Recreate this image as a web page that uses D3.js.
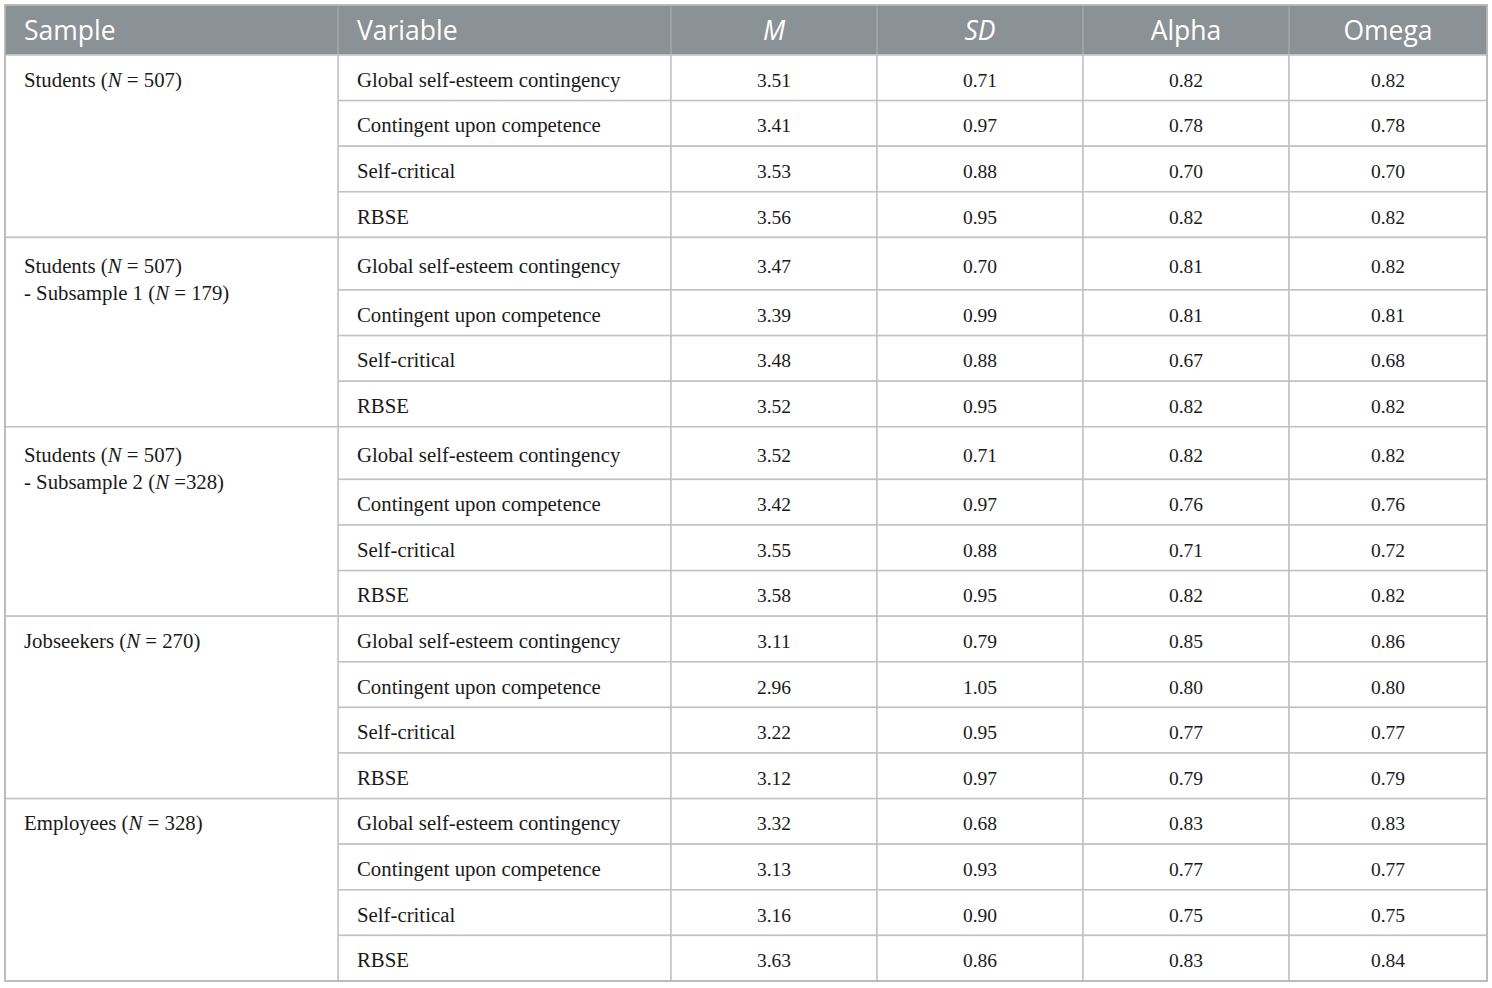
<!DOCTYPE html>
<html>
<head>
<meta charset="utf-8">
<script src="https://cdn.jsdelivr.net/npm/d3@7"></script>
<style>
  html, body { margin: 0; padding: 0; background: #fff; }
  svg { display: block; }
</style>
</head>
<body>
<svg id="chart" width="1492" height="988"></svg>
<script>
// column headings; M and SD are set in italics
const headers = ['Sample', 'Variable', 'M', 'SD', 'Alpha', 'Omega'];
const italicHeaders = ['M', 'SD'];

// sample labels, one entry per line, *...* marks italic text
const samples = [
  ['Students (*N* = 507)'],
  ['Students (*N* = 507)', '- Subsample 1 (*N* = 179)'],
  ['Students (*N* = 507)', '- Subsample 2 (*N* =328)'],
  ['Jobseekers (*N* = 270)'],
  ['Employees (*N* = 328)']
];

const variables = ['Global self-esteem contingency', 'Contingent upon competence', 'Self-critical', 'RBSE'];

// one array per sample, in the order of variables
const means = [
  [3.51, 3.41, 3.53, 3.56],
  [3.47, 3.39, 3.48, 3.52],
  [3.52, 3.42, 3.55, 3.58],
  [3.11, 2.96, 3.22, 3.12],
  [3.32, 3.13, 3.16, 3.63]
];
const sds = [
  [0.71, 0.97, 0.88, 0.95],
  [0.70, 0.99, 0.88, 0.95],
  [0.71, 0.97, 0.88, 0.95],
  [0.79, 1.05, 0.95, 0.97],
  [0.68, 0.93, 0.90, 0.86]
];
const alphas = [
  [0.82, 0.78, 0.70, 0.82],
  [0.81, 0.81, 0.67, 0.82],
  [0.82, 0.76, 0.71, 0.82],
  [0.85, 0.80, 0.77, 0.79],
  [0.83, 0.77, 0.75, 0.83]
];
const omegas = [
  [0.82, 0.78, 0.70, 0.82],
  [0.82, 0.81, 0.68, 0.82],
  [0.82, 0.76, 0.72, 0.82],
  [0.86, 0.80, 0.77, 0.79],
  [0.83, 0.77, 0.75, 0.84]
];

const svg = d3.select('#chart');
const x0 = 5, y0 = 5;
const colWidths = [333, 333, 206, 206, 206, 198];
const headerH = 50, rowH = 45.6, tallRowH = 52.6, lineGap = 27;
const borderColor = '#c2c2c2';
const serif = '"Liberation Serif", "Times New Roman", serif';
const sans = '"Open Sans", "Noto Sans", sans-serif';
const labelSize = 20.8, numSize = 19.5, baseShift = 9;
const fmt = d3.format('.2f');

const colEdges = [x0, ...d3.cumsum(colWidths).map(w => x0 + w)];

// flatten groups into rows; the first row of a two-line sample is taller
const rows = [];
samples.forEach((label, g) => {
  variables.forEach((v, i) => {
    rows.push({
      group: g,
      h: i === 0 && label.length > 1 ? tallRowH : rowH,
      cells: [v, fmt(means[g][i]), fmt(sds[g][i]), fmt(alphas[g][i]), fmt(omegas[g][i])]
    });
  });
});
const rowTops = [0, ...d3.cumsum(rows, r => r.h)].map(d => y0 + headerH + d);
rows.forEach((r, i) => { r.y = rowTops[i]; });

// header
svg.append('rect')
  .attr('x', x0).attr('y', y0)
  .attr('width', colEdges[6] - x0).attr('height', headerH)
  .attr('fill', '#8b9295')
  .attr('stroke', '#b9bdbf').attr('stroke-width', 1.5);

svg.selectAll('line.hdiv')
  .data(colEdges.slice(1, 6))
  .join('line')
  .attr('class', 'hdiv')
  .attr('x1', d => d).attr('x2', d => d)
  .attr('y1', y0 + 2).attr('y2', y0 + headerH)
  .attr('stroke', '#aab0b2').attr('stroke-width', 1.2);

svg.selectAll('text.head')
  .data(headers)
  .join('text')
  .attr('class', 'head')
  .attr('x', (d, i) => i < 2 ? colEdges[i] + 19 : (colEdges[i] + colEdges[i + 1]) / 2)
  .attr('y', y0 + headerH / 2 + 9.5)
  .attr('text-anchor', (d, i) => i < 2 ? 'start' : 'middle')
  .attr('font-family', sans)
  .attr('font-size', 26.5)
  .attr('font-style', d => italicHeaders.includes(d) ? 'italic' : 'normal')
  .attr('fill', '#ffffff')
  .text(d => d);

// body cells for columns 1..5
const rowG = svg.selectAll('g.row')
  .data(rows)
  .join('g')
  .attr('class', 'row')
  .attr('transform', d => `translate(0,${d.y})`);

rowG.selectAll('rect')
  .data(d => d.cells.map((c, j) => ({ c, j: j + 1, h: d.h })))
  .join('rect')
  .attr('x', d => colEdges[d.j])
  .attr('y', 0)
  .attr('width', d => colEdges[d.j + 1] - colEdges[d.j])
  .attr('height', d => d.h)
  .attr('fill', '#fff')
  .attr('stroke', borderColor).attr('stroke-width', 1.5);

rowG.selectAll('text')
  .data(d => d.cells.map((c, j) => ({ c, j: j + 1, h: d.h })))
  .join('text')
  .attr('x', d => d.j === 1 ? colEdges[1] + 19 : (colEdges[d.j] + colEdges[d.j + 1]) / 2)
  .attr('y', d => d.h / 2 + baseShift)
  .attr('text-anchor', d => d.j === 1 ? 'start' : 'middle')
  .attr('font-family', serif)
  .attr('font-size', d => d.j === 1 ? labelSize : numSize)
  .attr('fill', '#1a1a1a')
  .text(d => d.c);

// sample cells spanning each group's rows
const groups = samples.map((label, g) => {
  const gr = rows.filter(r => r.group === g);
  return { label, y: gr[0].y, h: d3.sum(gr, r => r.h), firstH: gr[0].h };
});

const sampleG = svg.selectAll('g.sample')
  .data(groups)
  .join('g')
  .attr('class', 'sample')
  .attr('transform', d => `translate(0,${d.y})`);

sampleG.append('rect')
  .attr('x', colEdges[0]).attr('y', 0)
  .attr('width', colEdges[1] - colEdges[0])
  .attr('height', d => d.h)
  .attr('fill', '#fff')
  .attr('stroke', borderColor).attr('stroke-width', 1.5);

sampleG.each(function (d) {
  const startY = d.firstH / 2 + baseShift;
  const t = d3.select(this).append('text')
    .attr('font-family', serif)
    .attr('font-size', labelSize)
    .attr('fill', '#1a1a1a');
  d.label.forEach((line, li) => {
    line.split('*').forEach((part, pi) => {
      const ts = t.append('tspan')
        .attr('font-style', pi % 2 ? 'italic' : 'normal')
        .text(part);
      if (pi === 0) ts.attr('x', colEdges[0] + 19).attr('y', startY + li * lineGap);
    });
  });
});

// outer frame
svg.append('rect')
  .attr('x', x0).attr('y', y0)
  .attr('width', colEdges[6] - x0)
  .attr('height', rowTops[rowTops.length - 1] - y0)
  .attr('fill', 'none')
  .attr('stroke', '#b5b5b5').attr('stroke-width', 1.5);
</script>
</body>
</html>
